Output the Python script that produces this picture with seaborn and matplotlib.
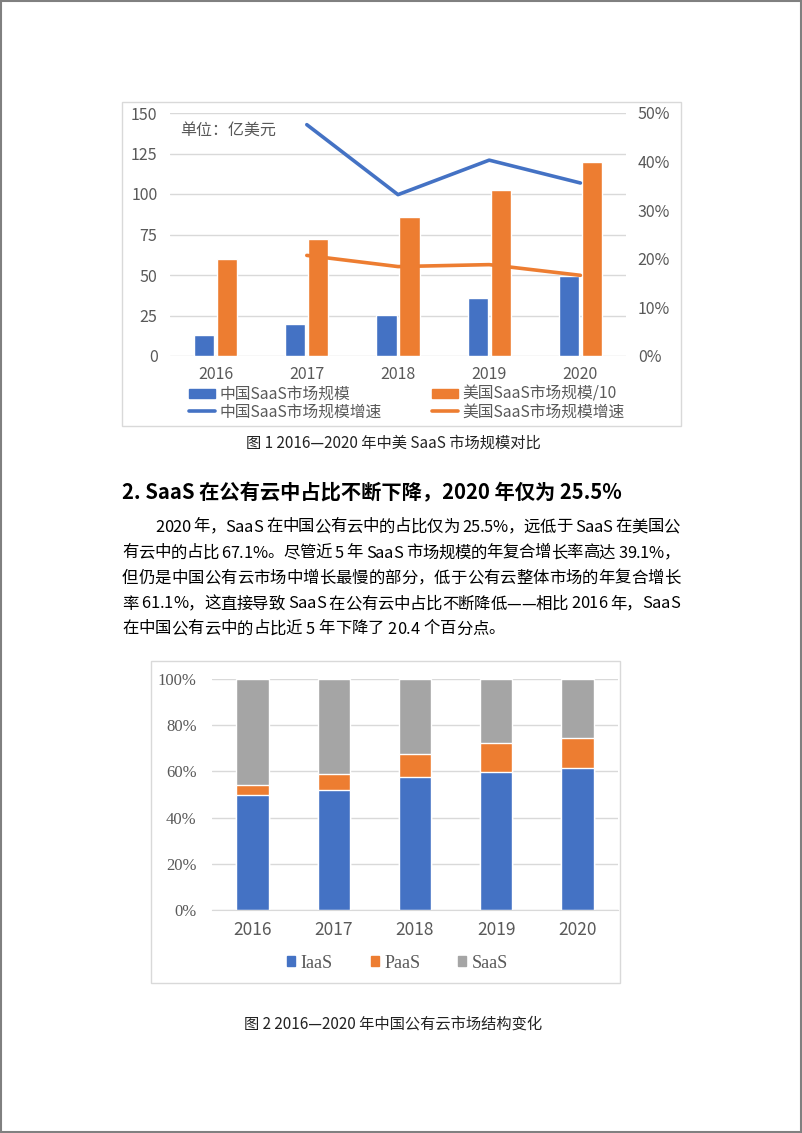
import matplotlib
matplotlib.use("Agg")
import matplotlib.pyplot as plt
import matplotlib.patches as mpatches
from matplotlib.lines import Line2D
from matplotlib.ticker import PercentFormatter
import pandas as pd
import seaborn as sns

# ---- data ----
years = ["2016", "2017", "2018", "2019", "2020"]
cn_saas = [13, 19.5, 25.5, 36, 49.5]           # 中国SaaS市场规模 (亿美元)
us_saas_10 = [60, 72.5, 86, 102.5, 119.5]      # 美国SaaS市场规模/10
growth_years = ["2017", "2018", "2019", "2020"]
cn_growth = [0.476, 0.332, 0.403, 0.356]       # 中国SaaS市场规模增速
us_growth = [0.207, 0.184, 0.188, 0.166]       # 美国SaaS市场规模增速

iaas = [49.7, 51.8, 57.6, 59.8, 61.5]
paas = [4.4, 7.2, 10.1, 12.3, 13.0]
saas = [45.9, 41.0, 32.3, 27.9, 25.5]

BLUE, ORANGE, GRAY = "#4472C4", "#ED7D31", "#A5A5A5"
TXT = "#595959"
GRID = "#D9D9D9"

sns.set_style("white")
plt.rcParams["font.family"] = ["Noto Sans CJK SC", "DejaVu Sans"]

W, H = 802, 1133
fig = plt.figure(figsize=(W / 100, H / 100), dpi=100)


def fx(px):
    return px / W


def fy(py):
    return 1 - py / H


def box(x0, y0, x1, y1, color, lw):
    fig.patches.append(mpatches.Rectangle((fx(x0), fy(y1)), fx(x1) - fx(x0), fy(y0) - fy(y1),
                                          transform=fig.transFigure, fill=False,
                                          edgecolor=color, linewidth=lw))


# page border and chart frames
box(1, 1, 800.5, 1131.5, "#808080", 1.5)
box(121.5, 101.5, 680.5, 426, GRID, 1.0)
box(151, 661, 620, 983, GRID, 1.0)

# ---- chart 1 ----
ax1 = fig.add_axes([fx(170), fy(356), fx(626) - fx(170), fy(113) - fy(356)])
df1 = pd.DataFrame({
    "year": years * 2,
    "value": cn_saas + us_saas_10,
    "series": ["中国SaaS市场规模"] * 5 + ["美国SaaS市场规模/10"] * 5,
})
sns.barplot(data=df1, x="year", y="value", hue="series", palette=[BLUE, ORANGE],
            width=0.505, gap=0.13, ax=ax1, legend=False, saturation=1)
ax1.set_ylim(0, 150)
ax1.set_yticks(range(0, 151, 25))
ax1.set_xlim(-0.5, 4.5)
ax1.grid(axis="y", color=GRID, linewidth=1)
ax1.set_axisbelow(True)
for s in ax1.spines.values():
    s.set_visible(False)
ax1.set_xlabel("")
ax1.set_ylabel("")
ax1.tick_params(axis="y", length=0, pad=9, labelsize=11.5, labelcolor=TXT)
ax1.tick_params(axis="x", length=0, pad=7, labelsize=11.5, labelcolor=TXT)

ax2 = ax1.twinx()
gx = [years.index(y) for y in growth_years]
sns.lineplot(x=gx, y=cn_growth, color=BLUE, linewidth=2.6, ax=ax2)
sns.lineplot(x=gx, y=us_growth, color=ORANGE, linewidth=2.6, ax=ax2)
ax2.set_ylim(0, 0.5)
ax2.set_yticks([0, 0.1, 0.2, 0.3, 0.4, 0.5])
ax2.yaxis.set_major_formatter(PercentFormatter(1.0, decimals=0))
ax2.tick_params(axis="y", length=0, pad=8.5, labelsize=11.5, labelcolor=TXT)
ax2.grid(False)
for s in ax2.spines.values():
    s.set_visible(False)
ax1.set_xlim(-0.5, 4.5)

fig.text(fx(180), fy(130), "单位：亿美元", fontsize=11.5, color=TXT, ha="left", va="center")

handles1 = [
    mpatches.Patch(color=BLUE, label="中国SaaS市场规模"),
    Line2D([], [], color=BLUE, linewidth=2.6, label="中国SaaS市场规模增速"),
    mpatches.Patch(color=ORANGE, label="美国SaaS市场规模/10"),
    Line2D([], [], color=ORANGE, linewidth=2.6, label="美国SaaS市场规模增速"),
]
leg1 = fig.legend(handles=handles1, ncol=2, loc="center", bbox_to_anchor=(fx(407), fy(403)),
                  frameon=False, fontsize=11.35, handlelength=1.65, handleheight=0.5,
                  handletextpad=0.26, columnspacing=3.2, labelspacing=0.05, borderpad=0)
for t in leg1.get_texts():
    t.set_color(TXT)

# ---- chart 2 ----
ax3 = fig.add_axes([fx(212), fy(910), fx(618) - fx(212), fy(679) - fy(910)])
ip = [a + b for a, b in zip(iaas, paas)]
total = [a + b for a, b in zip(ip, saas)]
sns.barplot(x=years, y=total, color=GRAY, width=0.4, ax=ax3, saturation=1)
sns.barplot(x=years, y=ip, color=ORANGE, width=0.4, ax=ax3, saturation=1)
sns.barplot(x=years, y=iaas, color=BLUE, width=0.4, ax=ax3, saturation=1)
ax3.set_ylim(0, 100)
ax3.set_xlim(-0.5, 4.5)
ax3.set_yticks(range(0, 101, 20))
ax3.yaxis.set_major_formatter(PercentFormatter(100, decimals=0))
ax3.grid(axis="y", color=GRID, linewidth=1)
ax3.set_axisbelow(True)
for s in ax3.spines.values():
    s.set_visible(False)
ax3.spines["bottom"].set_visible(True)
ax3.spines["bottom"].set_color(GRID)
ax3.tick_params(axis="y", length=0, pad=11, labelsize=12, labelcolor=TXT)
ax3.tick_params(axis="x", length=0, pad=8, labelsize=12.5, labelcolor=TXT)
for lab in ax3.get_yticklabels():
    lab.set_fontfamily(["Liberation Serif", "DejaVu Serif"])

handles2 = [mpatches.Patch(color=c, label=l) for c, l in
            zip([BLUE, ORANGE, GRAY], ["IaaS", "PaaS", "SaaS"])]
leg2 = fig.legend(handles=handles2, ncol=3, loc="center", bbox_to_anchor=(fx(397.5), fy(963)),
                  frameon=False, prop={"family": ["Liberation Serif"], "size": 13},
                  handlelength=0.45, handleheight=0.45, handletextpad=0.3,
                  columnspacing=2.1, borderpad=0)
for t in leg2.get_texts():
    t.set_color(TXT)

# ---- document text ----
fig.text(fx(393), fy(443), "图 1 2016—2020 年中美 SaaS 市场规模对比", fontsize=11,
         ha="center", va="center", color="#222222")
fig.text(fx(122), fy(493), "2. SaaS 在公有云中占比不断下降，2020 年仅为 25.5%", fontsize=14.6,
         fontweight="bold", ha="left", va="center", color="black")
fig.text(fx(393), fy(1024), "图 2 2016—2020 年中国公有云市场结构变化", fontsize=11,
         ha="center", va="center", color="#222222")

para = [
    ("2020 年，SaaS 在中国公有云中的占比仅为 25.5%，远低于 SaaS 在美国公", 155, 680, 527, True),
    ("有云中的占比 67.1%。尽管近 5 年 SaaS 市场规模的年复合增长率高达 39.1%，", 122, 680, 553, True),
    ("但仍是中国公有云市场中增长最慢的部分，低于公有云整体市场的年复合增长", 122, 680, 578, True),
    ("率 61.1%，这直接导致 SaaS 在公有云中占比不断降低——相比 2016 年，SaaS", 122, 680, 604, True),
    ("在中国公有云中的占比近 5 年下降了 20.4 个百分点。", 122, 680, 629, False),
]

renderer = fig.canvas.get_renderer()
PSIZE = 11.8
for line, x0, x1, y, justify in para:
    widths = []
    for ch in line:
        t = fig.text(0, 0, ch if ch != " " else "\u00a0", fontsize=PSIZE)
        widths.append(t.get_window_extent(renderer).width)
        t.remove()
    natural = sum(widths)
    extra = (x1 - x0 - natural) / (len(line) - 1) if justify else 0
    x = x0
    for ch, w in zip(line, widths):
        if ch != " ":
            fig.text(fx(x), fy(y), ch, fontsize=PSIZE, ha="left", va="center", color="black")
        x += w + extra

fig.savefig("out.png", dpi=100)
